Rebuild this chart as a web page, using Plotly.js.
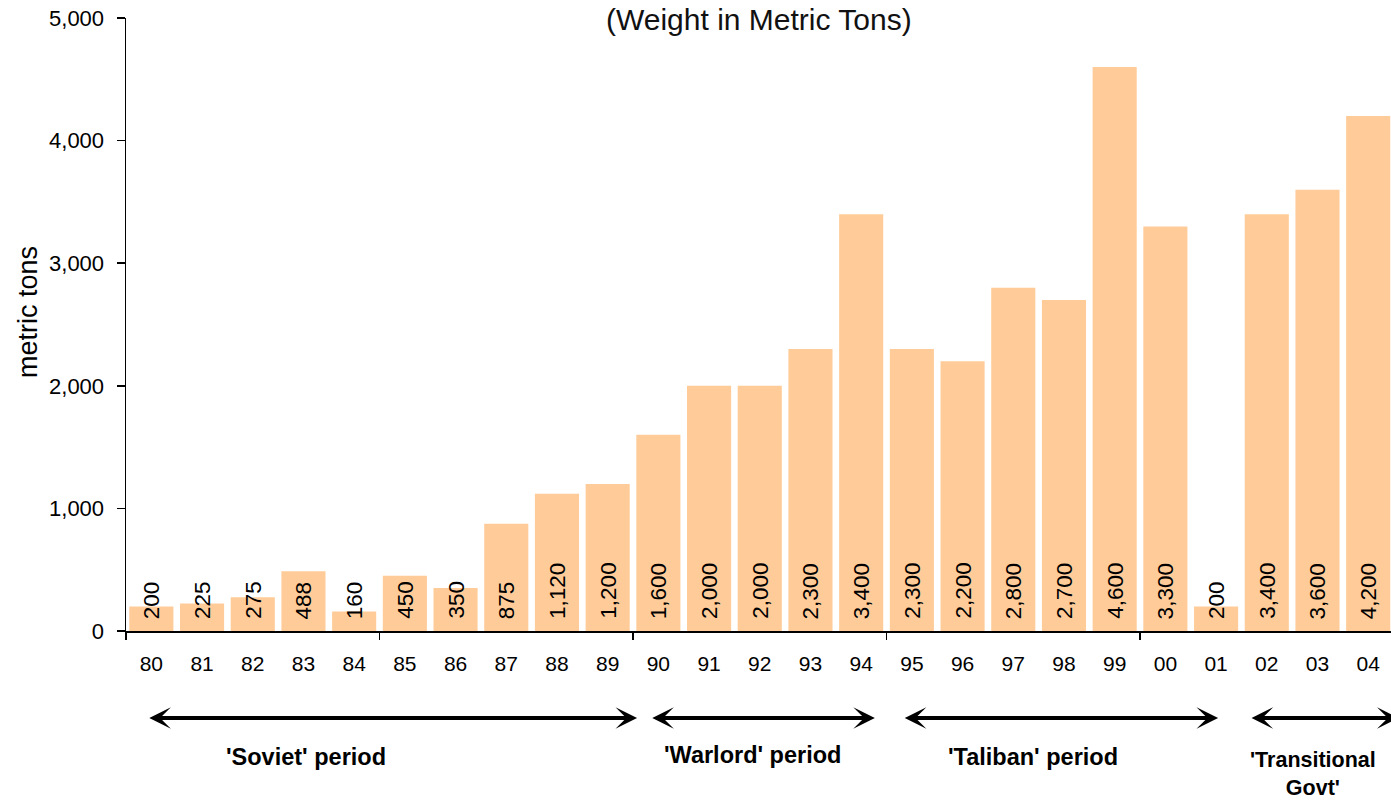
<!DOCTYPE html>
<html>
<head>
<meta charset="utf-8">
<script src="https://cdn.plot.ly/plotly-3.0.1.min.js"></script>
<style>html,body{margin:0;padding:0;background:#fff;}#chart{width:1391px;height:802px;}</style>
</head>
<body>
<div id="chart"></div>
<script>
// ---- data ----
const years = ['80','81','82','83','84','85','86','87','88','89','90','91','92','93','94','95','96','97','98','99','00','01','02','03','04'];
const tons = [200,225,275,488,160,450,350,875,1120,1200,1600,2000,2000,2300,3400,2300,2200,2800,2700,4600,3300,200,3400,3600,4200];
const yTicks = [0,1000,2000,3000,4000,5000];
const periodNames = ["'Soviet' period", "'Warlord' period", "'Taliban' period", "'Transitional<br>Govt'"];
const periodArrowFrom = [-0.07, 9.85, 14.83, 21.67];
const periodArrowTo = [9.58, 14.27, 21.04, 24.6];
const periodLabelX = [3.05, 11.85, 17.39, 22.91];
const periodLabelY = [-0.205, -0.202, -0.205, -0.234];
const periodLabelSize = [23.5, 23.5, 23.5, 21.5];
const boundaryTicks = [-0.5, 4.5, 9.5, 14.5, 19.5];

const FONT = 'Liberation Sans, Arial, Helvetica, sans-serif';
const idx = years.map((_, i) => i);

const trace = {
  type: 'bar',
  x: idx,
  y: tons,
  marker: {color: '#FFCC99', line: {width: 0}},
  width: 0.87,
  hoverinfo: 'x+y',
  showlegend: false
};
// empty trace so that the boundary-tick axis is drawn
const tickHolder = {type: 'scatter', x: [], y: [], xaxis: 'x2', yaxis: 'y', showlegend: false, hoverinfo: 'skip'};

const annotations = [];
tons.forEach((v, i) => {
  annotations.push({
    x: i, y: 0, xref: 'x', yref: 'y',
    text: v.toLocaleString('en-US'),
    textangle: -90,
    showarrow: false,
    xanchor: 'center', yanchor: 'bottom',
    yshift: 10,
    font: {family: FONT, size: 22.5, color: '#000'}
  });
});
periodNames.forEach((name, k) => {
  const yArrow = -0.142;
  annotations.push({
    x: periodArrowTo[k], y: yArrow, xref: 'x', yref: 'paper',
    ax: periodArrowFrom[k], ay: 0, axref: 'x', ayref: 'pixel',
    text: '', showarrow: true, arrowside: 'end+start',
    arrowhead: 3, startarrowhead: 3, arrowsize: 0.9, startarrowsize: 0.9,
    arrowwidth: 4, arrowcolor: '#000', standoff: 0, startstandoff: 0
  });
  annotations.push({
    x: periodLabelX[k], y: periodLabelY[k], xref: 'x', yref: 'paper',
    text: '<b>' + name + '</b>', showarrow: false,
    xanchor: 'center', yanchor: 'middle',
    font: {family: FONT, size: periodLabelSize[k], color: '#000'}
  });
});
// y-axis title
annotations.push({
  x: -98/1265, y: (631-312)/613, xref: 'paper', yref: 'paper',
  text: 'metric tons', textangle: -90, showarrow: false,
  xanchor: 'center', yanchor: 'middle',
  font: {family: FONT, size: 27, color: '#000'}
});
// chart subtitle (kept inside the page)
annotations.push({
  x: 0.5, y: 1, xref: 'paper', yref: 'paper',
  text: '(Weight in Metric Tons)', showarrow: false,
  xanchor: 'center', yanchor: 'bottom', yshift: -20,
  font: {family: FONT, size: 30, color: '#111'}
});

const layout = {
  width: 1391, height: 802,
  margin: {l: 126, r: 0, t: 18, b: 171, pad: 0},
  paper_bgcolor: '#fff', plot_bgcolor: '#fff',
  font: {family: FONT, color: '#000'},
  bargap: 0.13,
  xaxis: {
    type: 'linear', range: [-0.5, 24.45],
    tickmode: 'array', tickvals: idx, ticktext: years,
    ticks: '', showgrid: false, zeroline: false,
    showline: true, linecolor: '#000', linewidth: 1.5,
    tickfont: {family: FONT, size: 21, color: '#000'},
    ticklabelstandoff: 13,
    fixedrange: true
  },
  xaxis2: {
    overlaying: 'x', anchor: 'y', side: 'bottom',
    type: 'linear', range: [-0.5, 24.45],
    tickmode: 'array', tickvals: boundaryTicks,
    ticks: 'outside', ticklen: 8, tickwidth: 1.5, tickcolor: '#000',
    showticklabels: false, showgrid: false, zeroline: false, showline: false,
    fixedrange: true
  },
  yaxis: {
    range: [0, 5000],
    tickmode: 'array', tickvals: yTicks,
    tickformat: ',d',
    ticks: 'outside', ticklen: 8, tickwidth: 1.5, tickcolor: '#000',
    showline: true, linecolor: '#000', linewidth: 1.5,
    showgrid: false, zeroline: false,
    tickfont: {family: FONT, size: 22, color: '#000'},
    ticklabelstandoff: 8,
    fixedrange: true
  },
  annotations: annotations
};

Plotly.newPlot('chart', [trace, tickHolder], layout, {displayModeBar: false, staticPlot: true});
</script>
</body>
</html>
